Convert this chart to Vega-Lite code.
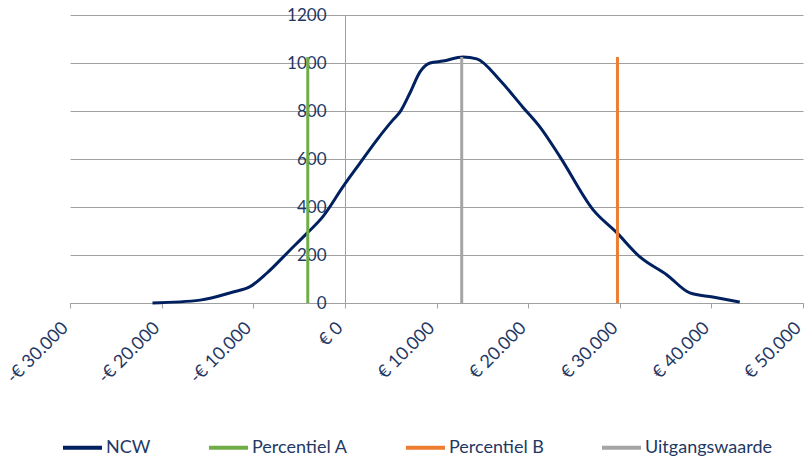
{
  "$schema": "https://vega.github.io/schema/vega-lite/v6.json",
  "width": 733,
  "height": 288,
  "autosize": "none",
  "padding": {"left": 70, "top": 15, "right": 2, "bottom": 153},
  "background": "white",
  "config": {"font": "Lato", "view": {"stroke": null}},
  "datasets": {
    "ncw": [
      {"series": "NCW", "x": -21000, "y": 0},
      {"series": "NCW", "x": -15800, "y": 12},
      {"series": "NCW", "x": -12200, "y": 46},
      {"series": "NCW", "x": -10400, "y": 67},
      {"series": "NCW", "x": -8500, "y": 125},
      {"series": "NCW", "x": -6000, "y": 220},
      {"series": "NCW", "x": -4150, "y": 290},
      {"series": "NCW", "x": -2400, "y": 360},
      {"series": "NCW", "x": -200, "y": 485},
      {"series": "NCW", "x": 1650, "y": 583},
      {"series": "NCW", "x": 3500, "y": 680},
      {"series": "NCW", "x": 5250, "y": 763},
      {"series": "NCW", "x": 6000, "y": 795},
      {"series": "NCW", "x": 7100, "y": 875},
      {"series": "NCW", "x": 8200, "y": 963},
      {"series": "NCW", "x": 9300, "y": 1000},
      {"series": "NCW", "x": 10700, "y": 1008},
      {"series": "NCW", "x": 12900, "y": 1025},
      {"series": "NCW", "x": 14400, "y": 1017},
      {"series": "NCW", "x": 16900, "y": 929},
      {"series": "NCW", "x": 19400, "y": 817},
      {"series": "NCW", "x": 21300, "y": 733},
      {"series": "NCW", "x": 23500, "y": 608},
      {"series": "NCW", "x": 27100, "y": 388},
      {"series": "NCW", "x": 29700, "y": 292},
      {"series": "NCW", "x": 32200, "y": 192},
      {"series": "NCW", "x": 35150, "y": 117},
      {"series": "NCW", "x": 37650, "y": 42},
      {"series": "NCW", "x": 40150, "y": 25},
      {"series": "NCW", "x": 43100, "y": 4}
    ],
    "lines": [
      {"series": "Percentiel A", "x": -4050, "y0": 0, "y1": 1025},
      {"series": "Percentiel B", "x": 29750, "y0": 0, "y1": 1025},
      {"series": "Uitgangswaarde", "x": 12750, "y0": 0, "y1": 1025}
    ]
  },
  "layer": [
    {
      "data": {"name": "ncw"},
      "mark": {"type": "line", "interpolate": "monotone", "strokeWidth": 3},
      "encoding": {
        "x": {
          "field": "x", "type": "quantitative",
          "scale": {"domain": [-30000, 50000], "nice": false, "zero": false},
          "axis": {
            "title": null,
            "values": [-30000, -20000, -10000, 0, 10000, 20000, 30000, 40000, 50000],
            "labelExpr": "datum.value < 0 ? '-€ ' + replace(format(-datum.value, ','), ',', '.') : '€ ' + replace(format(datum.value, ','), ',', '.')",
            "labelAngle": -45,
            "labelAlign": "right",
            "labelBaseline": "middle",
            "labelFontSize": 18,
            "labelColor": "#1f3864",
            "labelPadding": 17,
            "labelOffset": -5,
            "labelFlush": false,
            "labelOverlap": false,
            "domainColor": "#a0a0a0",
            "tickColor": "#a0a0a0",
            "tickSize": 5,
            "grid": false
          }
        },
        "y": {
          "field": "y", "type": "quantitative",
          "scale": {"domain": [0, 1200], "nice": false},
          "axis": {
            "title": null,
            "values": [0, 200, 400, 600, 800, 1000, 1200],
            "format": "d",
            "offset": -275,
            "labelFontSize": 17,
            "labelColor": "#1f3864",
            "labelPadding": 14,
            "labelFlush": false,
            "tickSize": 5,
            "domainColor": "#a0a0a0",
            "tickColor": "#a0a0a0",
            "grid": true,
            "gridColor": "#a0a0a0"
          }
        },
        "color": {
          "field": "series", "type": "nominal",
          "scale": {
            "domain": ["NCW", "Percentiel A", "Percentiel B", "Uitgangswaarde"],
            "range": ["#002060", "#70ad47", "#ed7d31", "#a5a5a5"]
          },
          "legend": {
            "title": null,
            "orient": "none",
            "direction": "horizontal",
            "legendX": -9,
            "legendY": 411,
            "symbolType": "stroke",
            "symbolSize": 1521,
            "symbolStrokeWidth": 4,
            "labelFontSize": 18,
            "labelColor": "#1f3864",
            "labelOffset": 2,
            "columnPadding": 50
          }
        }
      }
    },
    {
      "data": {"name": "lines"},
      "mark": {"type": "rule", "strokeWidth": 3},
      "encoding": {
        "x": {"field": "x", "type": "quantitative"},
        "y": {"field": "y0", "type": "quantitative"},
        "y2": {"field": "y1"},
        "color": {"field": "series", "type": "nominal"}
      }
    }
  ]
}
